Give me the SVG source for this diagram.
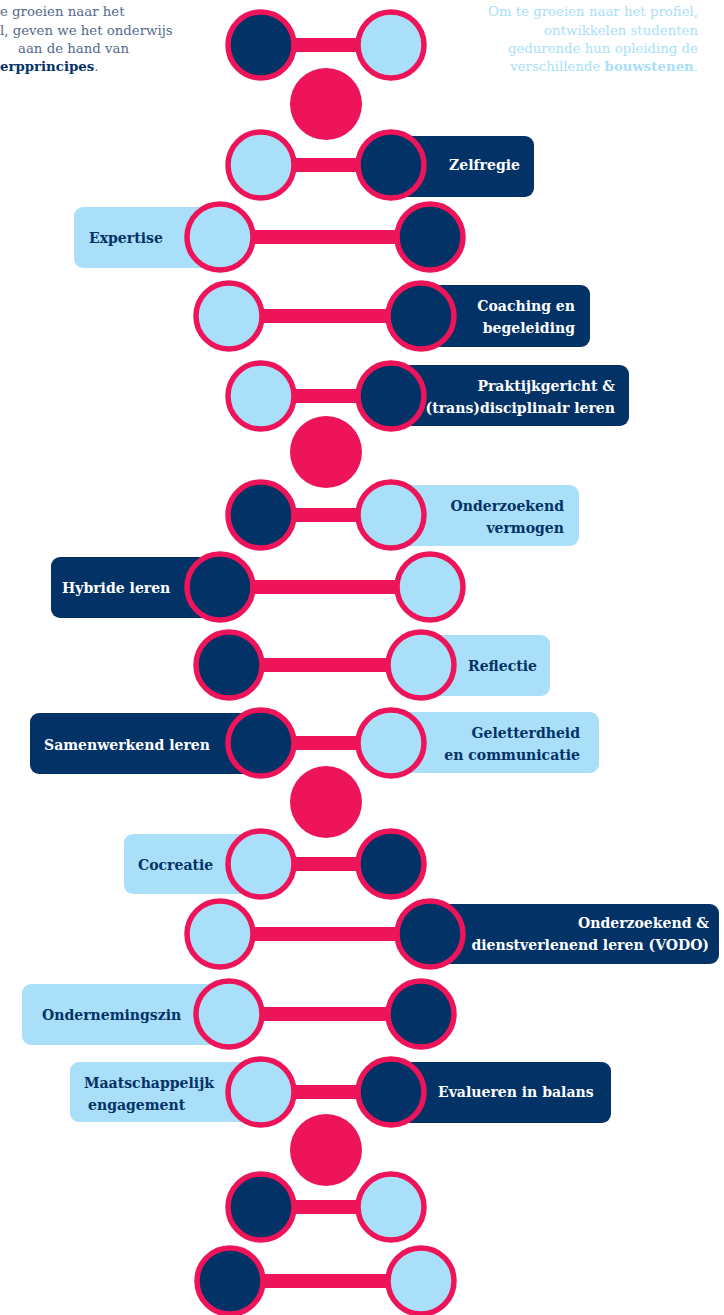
<svg xmlns="http://www.w3.org/2000/svg" width="724" height="1315" viewBox="0 0 724 1315">
<defs>
<style>
.bar{fill:#EE1459}
.dk{fill:#033266;stroke:#EE1459;stroke-width:5.5}
.lt{fill:#A9DFF8;stroke:#EE1459;stroke-width:5.5}
.pk{fill:#EE1459}
.bd{fill:#033266}
.bl{fill:#A9DFF8}
.lab{font-family:"DejaVu Serif","Liberation Serif",serif;font-weight:bold;font-size:15.6px;font-stretch:condensed}
.tw{fill:#FFFFFF}
.tn{fill:#033266}
.intro{font-family:"DejaVu Serif","Liberation Serif",serif;font-size:13.3px}
</style>
</defs>
<rect width="724" height="1315" fill="#FFFFFF"/>
<g id="intro-left" class="intro" fill="#53698C">
<text x="0" y="16">e groeien naar het</text>
<text x="0" y="34.5">l, geven we het onderwijs</text>
<text x="18" y="53">aan de hand van</text>
<text x="0" y="71"><tspan fill="#033266" font-weight="bold">erpprincipes</tspan>.</text>
</g>
<g id="intro-right" class="intro" fill="#A9DFF8" text-anchor="end">
<text x="698" y="16">Om te groeien naar het profiel,</text>
<text x="698" y="34.5">ontwikkelen studenten</text>
<text x="698" y="53">gedurende hun opleiding de</text>
<text x="698" y="71">verschillende <tspan font-weight="bold">bouwstenen</tspan>.</text>
</g>
<g id="connectors">
<rect class="bar" x="261" y="38" width="130" height="14"/>
<rect class="bar" x="261" y="158" width="130" height="14"/>
<rect class="bar" x="220" y="230" width="210" height="14"/>
<rect class="bar" x="229" y="309" width="192" height="14"/>
<rect class="bar" x="261" y="389" width="130" height="14"/>
<rect class="bar" x="261" y="508" width="130" height="14"/>
<rect class="bar" x="220" y="580" width="210" height="14"/>
<rect class="bar" x="229" y="658" width="192" height="14"/>
<rect class="bar" x="261" y="736" width="130" height="14"/>
<rect class="bar" x="261" y="857" width="130" height="14"/>
<rect class="bar" x="220" y="927" width="210" height="14"/>
<rect class="bar" x="229" y="1007" width="192" height="14"/>
<rect class="bar" x="261" y="1085" width="130" height="14"/>
<rect class="bar" x="261" y="1200" width="130" height="14"/>
<rect class="bar" x="230" y="1274" width="191" height="14"/>
</g>
<g id="spacer-1"><circle class="pk" cx="326" cy="104" r="36"/></g>
<g id="spacer-2"><circle class="pk" cx="326" cy="452" r="36"/></g>
<g id="spacer-3"><circle class="pk" cx="326" cy="802" r="36"/></g>
<g id="spacer-4"><circle class="pk" cx="326" cy="1150" r="36"/></g>
<g id="row-1"><circle class="dk" cx="261" cy="45" r="33"/><circle class="lt" cx="391" cy="45" r="33"/></g>
<g id="node-zelfregie">
<rect class="bd" x="390" y="136" width="144" height="61" rx="9"/>
<circle class="lt" cx="261" cy="165" r="33"/><circle class="dk" cx="391" cy="165" r="33"/>
<text class="lab tw" x="520" y="170" text-anchor="end">Zelfregie</text>
</g>
<g id="node-expertise">
<rect class="bl" x="74" y="207" width="150" height="61" rx="9"/>
<circle class="lt" cx="220" cy="237" r="33"/><circle class="dk" cx="430" cy="237" r="33"/>
<text class="lab tn" x="89" y="243">Expertise</text>
</g>
<g id="node-coaching">
<rect class="bd" x="420" y="285" width="170" height="62" rx="9"/>
<circle class="lt" cx="229" cy="316" r="33"/><circle class="dk" cx="421" cy="316" r="33"/>
<text class="lab tw" x="575" y="311" text-anchor="end">Coaching en</text>
<text class="lab tw" x="575" y="333" text-anchor="end">begeleiding</text>
</g>
<g id="node-praktijk">
<rect class="bd" x="391" y="365" width="238" height="61" rx="9"/>
<circle class="lt" cx="261" cy="396" r="33"/><circle class="dk" cx="391" cy="396" r="33"/>
<text class="lab tw" x="615" y="391" text-anchor="end">Praktijkgericht &amp;</text>
<text class="lab tw" x="615" y="413" text-anchor="end">(trans)disciplinair leren</text>
</g>
<g id="node-onderzoekend-vermogen">
<rect class="bl" x="391" y="485" width="188" height="61" rx="9"/>
<circle class="dk" cx="261" cy="515" r="33"/><circle class="lt" cx="391" cy="515" r="33"/>
<text class="lab tn" x="564" y="511" text-anchor="end">Onderzoekend</text>
<text class="lab tn" x="564" y="533" text-anchor="end">vermogen</text>
</g>
<g id="node-hybride">
<rect class="bd" x="51" y="557" width="170" height="61" rx="9"/>
<circle class="dk" cx="220" cy="587" r="33"/><circle class="lt" cx="430" cy="587" r="33"/>
<text class="lab tw" x="62" y="593">Hybride leren</text>
</g>
<g id="node-reflectie">
<rect class="bl" x="421" y="635" width="129" height="61" rx="9"/>
<circle class="dk" cx="229" cy="665" r="33"/><circle class="lt" cx="421" cy="665" r="33"/>
<text class="lab tn" x="537" y="671" text-anchor="end">Reflectie</text>
</g>
<g id="node-samenwerkend">
<rect class="bd" x="30" y="713" width="231" height="61" rx="9"/>
<rect class="bl" x="391" y="712" width="208" height="61" rx="9"/>
<circle class="dk" cx="261" cy="743" r="33"/><circle class="lt" cx="391" cy="743" r="33"/>
<text class="lab tw" x="44" y="750">Samenwerkend leren</text>
<text class="lab tn" x="580" y="738" text-anchor="end">Geletterdheid</text>
<text class="lab tn" x="580" y="760" text-anchor="end">en communicatie</text>
</g>
<g id="node-cocreatie">
<rect class="bl" x="124" y="834" width="137" height="60" rx="9"/>
<circle class="lt" cx="261" cy="864" r="33"/><circle class="dk" cx="391" cy="864" r="33"/>
<text class="lab tn" x="138" y="870">Cocreatie</text>
</g>
<g id="node-vodo">
<rect class="bd" x="430" y="904" width="289" height="60" rx="9"/>
<circle class="lt" cx="220" cy="934" r="33"/><circle class="dk" cx="430" cy="934" r="33"/>
<text class="lab tw" x="709" y="928" text-anchor="end">Onderzoekend &amp;</text>
<text class="lab tw" x="709" y="950" text-anchor="end">dienstverlenend leren (VODO)</text>
</g>
<g id="node-ondernemingszin">
<rect class="bl" x="22" y="984" width="207" height="61" rx="9"/>
<circle class="lt" cx="229" cy="1014" r="33"/><circle class="dk" cx="421" cy="1014" r="33"/>
<text class="lab tn" x="42" y="1020">Ondernemingszin</text>
</g>
<g id="node-maatschappelijk">
<rect class="bl" x="70" y="1062" width="191" height="60" rx="9"/>
<rect class="bd" x="391" y="1062" width="220" height="61" rx="9"/>
<circle class="lt" cx="261" cy="1092" r="33"/><circle class="dk" cx="391" cy="1092" r="33"/>
<text class="lab tn" x="84" y="1088">Maatschappelijk</text>
<text class="lab tn" x="88" y="1110">engagement</text>
<text class="lab tw" x="438" y="1097">Evalueren in balans</text>
</g>
<g id="row-14"><circle class="dk" cx="261" cy="1207" r="33"/><circle class="lt" cx="391" cy="1207" r="33"/></g>
<g id="row-15"><circle class="dk" cx="230" cy="1281" r="33"/><circle class="lt" cx="421" cy="1281" r="33"/></g>
</svg>
